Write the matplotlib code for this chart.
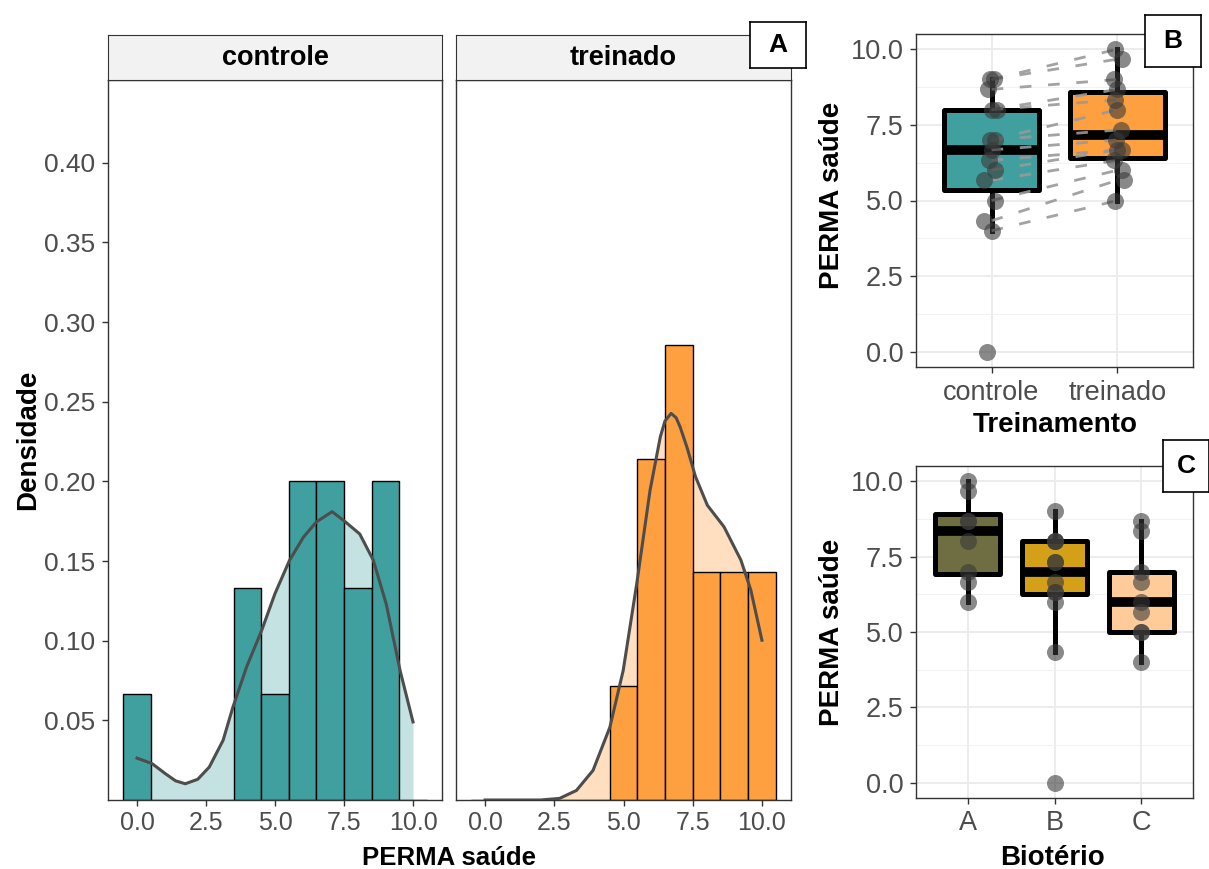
import numpy as np
import matplotlib
matplotlib.use("Agg")
import matplotlib.pyplot as plt

plt.rcParams['font.family'] = ['Liberation Sans', 'DejaVu Sans']

# dados: PERMA saúde por grupo (mesma ordem para o pareamento; controle[0] sem par)
controle = [0, 4, 4.33, 5, 5.67, 6, 6.33, 6.67, 7, 7, 8, 8, 8.67, 9, 9]
treinado = [5, 5.67, 6, 6.33, 6.67, 6.67, 7, 7.33, 8, 8.33, 8.67, 9, 9.67, 10]

# densidade
dens_x_ctrl = [0, 0.55, 1.03, 1.4, 1.75, 2.2, 2.62, 3.12, 3.47, 3.97, 4.52, 5.0,
               5.53, 6.03, 6.5, 7.07, 7.55, 8.07, 8.56, 9.03, 9.53, 10]
dens_y_ctrl = [0.0263, 0.0228, 0.0165, 0.012, 0.0102, 0.013, 0.0207, 0.0375, 0.058,
               0.0835, 0.1066, 0.1296, 0.1506, 0.165, 0.1746, 0.181, 0.1746, 0.167,
               0.1506, 0.123, 0.0814, 0.049]
dens_x_trein = [0, 1, 2, 2.69, 3.3, 3.9, 4.51, 4.99, 5.48, 5.96, 6.33, 6.5, 6.72, 6.9,
                7.05, 7.3, 7.6, 8.03, 8.63, 9.24, 9.6, 10]
dens_y_trein = [0, 0, 0, 0.001, 0.006, 0.0186, 0.0458, 0.0814, 0.136, 0.1945, 0.228,
                0.238, 0.2427, 0.240, 0.234, 0.221, 0.203, 0.185, 0.1715, 0.1506,
                0.1317, 0.1003]

# biotério
bioterios = ['A', 'B', 'C']
biot_A = [6, 6.67, 7, 8, 8.67, 8.67, 9.67, 10]
biot_B = [0, 4.33, 6, 6.33, 6.33, 6.67, 7.33, 7.33, 8, 8, 8, 9]
biot_C = [4, 5, 5, 5.67, 6, 6.67, 7, 8.33, 8.67]

grupos = ['controle', 'treinado']

# jitter horizontal dos pontos no painel B
jit_ctrl = [-0.04, 0.0, -0.06, 0.03, -0.06, 0.03, -0.02, 0.0, 0.03, -0.01, 0.04, 0.0, -0.03, 0.02, -0.01]
jit_trein = [-0.02, 0.05, 0.04, -0.03, 0.04, 0.0, -0.01, 0.03, 0.0, -0.02, 0.0, -0.03, 0.04, -0.02]

teal, teal_l = '#40A0A0', '#C4E2E1'
laranja, laranja_l = '#FFA040', '#FFDFBF'
cores_biot = ['#6E6E42', '#D4A017', '#FFCC99']

W, H = 1209, 869
fig = plt.figure(figsize=(W / 100, H / 100), dpi=100)


def px_axes(x0, y0, x1, y1):
    return fig.add_axes([x0 / W, 1 - y1 / H, (x1 - x0) / W, (y1 - y0) / H])


def estilo(ax, fs_x, fs_y, pad_x):
    for s in ax.spines.values():
        s.set_color('#333333')
        s.set_linewidth(1.0)
    ax.tick_params(colors='#333333', labelcolor='#4D4D4D', length=4, width=1)
    ax.tick_params(axis='x', labelsize=fs_x, pad=pad_x)
    ax.tick_params(axis='y', labelsize=fs_y, pad=5)


def etiqueta(x0, y0, x1, y1, txt):
    a = px_axes(x0, y0, x1, y1)
    a.set_xticks([]); a.set_yticks([])
    for s in a.spines.values():
        s.set_linewidth(1.2)
    a.text(0.5, 0.5, txt, ha='center', va='center', fontsize=19, fontweight='bold')


def titulo(x, y, txt, fs=20, rot=0):
    fig.text(x / W, 1 - y / H, txt, rotation=rot, ha='center', va='center',
             fontsize=fs, fontweight='bold')


# ---------- painel A ----------
bins = np.arange(-0.5, 11.0, 1.0)
paineis = [(108, 442, controle, teal, teal_l, dens_x_ctrl, dens_y_ctrl, 'controle'),
           (456, 791, treinado, laranja, laranja_l, dens_x_trein, dens_y_trein, 'treinado')]
for i, (x0, x1, dados, cor, cor_l, dx, dy, nome) in enumerate(paineis):
    ax = px_axes(x0, 80, x1, 800)
    ax.fill_between(dx, 0, dy, color=cor_l, lw=0, zorder=1)
    ax.hist(dados, bins=bins, density=True, color=cor, edgecolor='black', lw=1.0, zorder=2)
    ax.plot(dx, dy, color='#4D4D4D', lw=2.2, zorder=3)
    ax.set_xlim(-1.05, 11.05)
    ax.set_ylim(0, 0.452)
    ax.set_xticks([0, 2.5, 5, 7.5, 10])
    ax.set_xticklabels(['0.0', '2.5', '5.0', '7.5', '10.0'])
    ax.set_yticks([0.05, 0.10, 0.15, 0.20, 0.25, 0.30, 0.35, 0.40])
    estilo(ax, 18, 19, 4)
    if i == 0:
        ax.set_yticklabels(['%.2f' % v for v in ax.get_yticks()])
    else:
        ax.tick_params(left=False, labelleft=False)
    st = px_axes(x0, 35, x1, 80)
    st.set_facecolor('#F2F2F2')
    st.set_xticks([]); st.set_yticks([])
    for s in st.spines.values():
        s.set_color('#333333')
    st.text(0.5, 0.48, nome, ha='center', va='center', fontsize=19.5, fontweight='bold')

titulo(28, 440, 'Densidade', 20, 90)
titulo(449, 858, 'PERMA saúde', 18.5)
etiqueta(750, 22, 806, 68, 'A')


def caixa_grid(ax, n):
    ax.set_ylim(-0.5, 10.5)
    ax.set_xlim(0.4, n + 0.6)
    ax.set_yticks([0, 2.5, 5, 7.5, 10])
    ax.set_yticklabels(['0.0', '2.5', '5.0', '7.5', '10.0'])
    ax.set_yticks([1.25, 3.75, 6.25, 8.75], minor=True)
    ax.grid(True, which='major', color='#EBEBEB', lw=1.3, zorder=0)
    ax.grid(True, which='minor', axis='y', color='#F2F2F2', lw=0.7, zorder=0)
    ax.set_axisbelow(True)
    estilo(ax, 19.5, 19.5, 5)
    ax.tick_params(which='minor', length=0)


def caixas(ax, dados, cores):
    bp = ax.boxplot(dados, positions=range(1, len(dados) + 1), widths=0.75,
                    patch_artist=True, showfliers=False, showcaps=False,
                    boxprops=dict(lw=3.6, edgecolor='black'),
                    whiskerprops=dict(lw=3.6, color='black'),
                    medianprops=dict(lw=7, color='black', solid_capstyle='butt'),
                    zorder=2)
    for p, c in zip(bp['boxes'], cores):
        p.set_facecolor(c)
        p.set_joinstyle('round')


# ---------- painel B ----------
axb = px_axes(916, 34, 1193, 367)
caixa_grid(axb, 2)
caixas(axb, [controle, treinado], [teal, laranja])
for c, t in zip(controle[1:], treinado):
    axb.plot([1, 2], [c, t], color='#999999', lw=2.0, alpha=0.9,
             linestyle=(0, (4.2, 6.0)), dash_capstyle='butt', zorder=3)
axb.scatter(np.add(1, jit_ctrl), controle, s=150, color='#3A3A3A', alpha=0.6, lw=0, zorder=4)
axb.scatter(np.add(2, jit_trein), treinado, s=150, color='#3A3A3A', alpha=0.6, lw=0, zorder=4)
axb.set_xticks([1, 2])
axb.set_xticklabels(grupos)
titulo(832, 195, 'PERMA saúde', 20, 90)
titulo(1055, 425, 'Treinamento', 20)
etiqueta(1145, 15, 1201, 67, 'B')

# ---------- painel C ----------
axc = px_axes(916, 466, 1193, 798)
caixa_grid(axc, 3)
dados_biot = [biot_A, biot_B, biot_C]
caixas(axc, dados_biot, cores_biot)
for k, d in enumerate(dados_biot):
    axc.scatter([k + 1] * len(d), d, s=150, color='#3A3A3A', alpha=0.6, lw=0, zorder=4)
axc.set_xticks([1, 2, 3])
axc.set_xticklabels(bioterios)
titulo(832, 632, 'PERMA saúde', 20, 90)
titulo(1053, 858, 'Biotério', 20)
etiqueta(1163, 440, 1209, 492, 'C')

fig.savefig('out.png', dpi=100)
